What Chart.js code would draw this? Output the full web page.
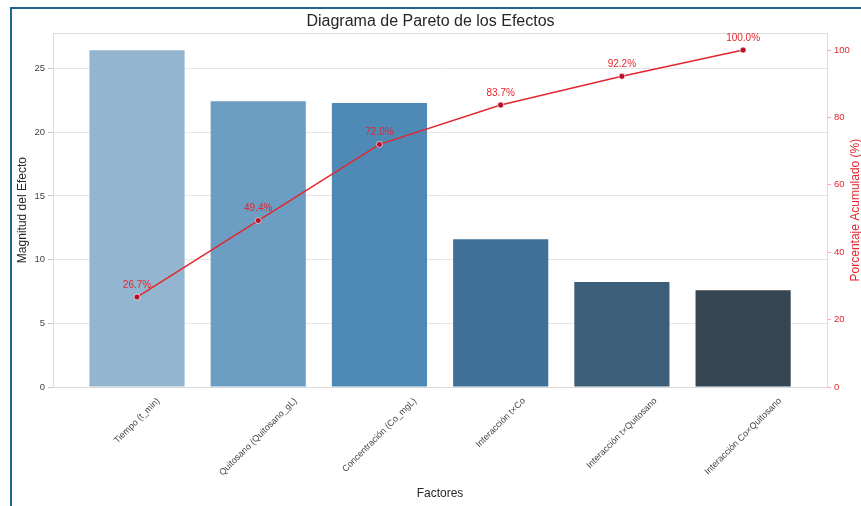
<!DOCTYPE html>
<html>
<head>
<meta charset="utf-8">
<script src="https://cdn.jsdelivr.net/npm/chart.js@4.4.1/dist/chart.umd.min.js"></script>
<style>
html,body{margin:0;padding:0;background:#fff;}
#wrap{position:relative;width:861px;height:506px;overflow:hidden;background:#fff;}
#frame{position:absolute;left:10px;top:7px;width:860px;height:510px;border-left:2px solid #1c6690;border-top:2px solid #1c6690;pointer-events:none;}
canvas{position:absolute;left:0;top:0;}
</style>
</head>
<body>
<div id="wrap"><canvas id="c" width="861" height="506"></canvas><div id="frame"></div></div>
<script>
const categories = ['Tiempo (t_min)', 'Quitosano (Quitosano_gL)', 'Concentración (Co_mgL)', 'Interacción t×Co', 'Interacción t×Quitosano', 'Interacción Co×Quitosano'];
const effectMagnitude = [26.44, 22.43, 22.30, 11.6, 8.25, 7.6];
const cumulativePercent = [26.7, 49.4, 72.0, 83.7, 92.2, 100.0];
const leftTicks = [0, 5, 10, 15, 20, 25];
const rightTicks = [0, 20, 40, 60, 80, 100];
const barColors = ['#93b5cf', '#6c9dc3', '#4f89b6', '#3f7198', '#3d5e79', '#354552'];

const FONT = '"Liberation Sans", Arial, sans-serif';
const RED = '#e3262f';

const extrasPlugin = {
  id: 'extras',
  beforeDatasetsDraw(chart) {
    const {ctx, chartArea: a} = chart;
    ctx.save();
    ctx.strokeStyle = '#dcdcdc';
    ctx.lineWidth = 1;
    ctx.beginPath();
    ctx.moveTo(a.left, Math.round(a.top) + 0.5);
    ctx.lineTo(a.right, Math.round(a.top) + 0.5);
    ctx.stroke();
    ctx.restore();
  },
  afterDraw(chart) {
    const ctx = chart.ctx;
    const xs = chart.scales.x;
    const a = chart.chartArea;
    ctx.save();
    ctx.font = '9px ' + FONT;
    ctx.fillStyle = '#444';
    ctx.textAlign = 'center';
    ctx.textBaseline = 'middle';
    const top = xs.top + 9;
    categories.forEach((lab, i) => {
      const w = ctx.measureText(lab).width;
      const ext = (w + 10) * Math.SQRT1_2;
      const cx = xs.getPixelForValue(i);
      ctx.save();
      ctx.translate(cx, top + ext / 2);
      ctx.rotate(-Math.PI / 4);
      ctx.fillText(lab, 0, 0);
      ctx.restore();
    });
    const meta = chart.getDatasetMeta(1);
    ctx.font = '10px ' + FONT;
    ctx.fillStyle = RED;
    meta.data.forEach((pt, i) => {
      ctx.fillText(cumulativePercent[i].toFixed(1) + '%', pt.x, pt.y - 12);
    });
    ctx.save();
    ctx.font = '12px ' + FONT;
    ctx.fillStyle = RED;
    ctx.translate(856, (a.top + a.bottom) / 2);
    ctx.rotate(-Math.PI / 2);
    ctx.fillText('Porcentaje Acumulado (%)', 0, 0);
    ctx.restore();
    ctx.restore();
  }
};

new Chart(document.getElementById('c'), {
  type: 'bar',
  data: {
    datasets: [
      {
        type: 'bar',
        label: 'Magnitud del Efecto',
        data: effectMagnitude.map((v, i) => ({x: i, y: v})),
        backgroundColor: barColors,
        borderWidth: 0,
        barPercentage: 0.785,
        categoryPercentage: 1.0,
        yAxisID: 'y',
        order: 1
      },
      {
        type: 'line',
        label: 'Porcentaje Acumulado',
        data: cumulativePercent.map((v, i) => ({x: i, y: v})),
        borderColor: RED,
        borderWidth: 1.5,
        pointRadius: 3,
        pointBackgroundColor: '#b8102b',
        pointBorderColor: 'rgba(255,255,255,0.8)',
        pointBorderWidth: 0.8,
        tension: 0,
        yAxisID: 'y1',
        order: 0
      }
    ]
  },
  options: {
    responsive: false,
    animation: false,
    layout: {padding: 0},
    plugins: {
      legend: {display: false},
      tooltip: {enabled: false},
      title: {
        display: true,
        text: 'Diagrama de Pareto de los Efectos',
        color: '#262626',
        font: {family: FONT, size: 16, weight: 'normal'},
        padding: {top: 12, bottom: 2}
      }
    },
    scales: {
      x: {
        type: 'linear',
        offset: false,
        min: -0.693,
        max: 5.692,
        afterBuildTicks: s => { s.ticks = categories.map((_, i) => ({value: i})); },
        afterFit: s => { s.height = 119; },
        ticks: {display: false},
        grid: {display: false, drawTicks: false, offset: false},
        border: {display: true, color: '#dcdcdc'},
        title: {
          display: true,
          text: 'Factores',
          color: '#262626',
          font: {family: FONT, size: 12},
          padding: {top: 0, bottom: 5}
        }
      },
      y: {
        type: 'linear',
        position: 'left',
        min: 0,
        max: 27.77,
        afterBuildTicks: s => { s.ticks = leftTicks.map(v => ({value: v})); },
        afterFit: s => { s.width = 53; },
        ticks: {color: '#444', font: {family: FONT, size: 9.5}, padding: 3},
        grid: {color: '#e6e6e6', tickLength: 5, tickColor: '#c8c8c8'},
        border: {display: true, color: '#dcdcdc'},
        title: {
          display: true,
          text: 'Magnitud del Efecto',
          color: '#262626',
          font: {family: FONT, size: 12},
          padding: {top: 15, bottom: 0}
        }
      },
      y1: {
        type: 'linear',
        position: 'right',
        min: 0,
        max: 105,
        afterBuildTicks: s => { s.ticks = rightTicks.map(v => ({value: v})); },
        afterFit: s => { s.width = 34; },
        ticks: {color: RED, font: {family: FONT, size: 9.5}, padding: 3},
        grid: {drawOnChartArea: false, tickLength: 4, tickColor: '#f0a8a8'},
        border: {display: true, color: '#dcdcdc'}
      }
    }
  },
  plugins: [extrasPlugin]
});
</script>
</body>
</html>
